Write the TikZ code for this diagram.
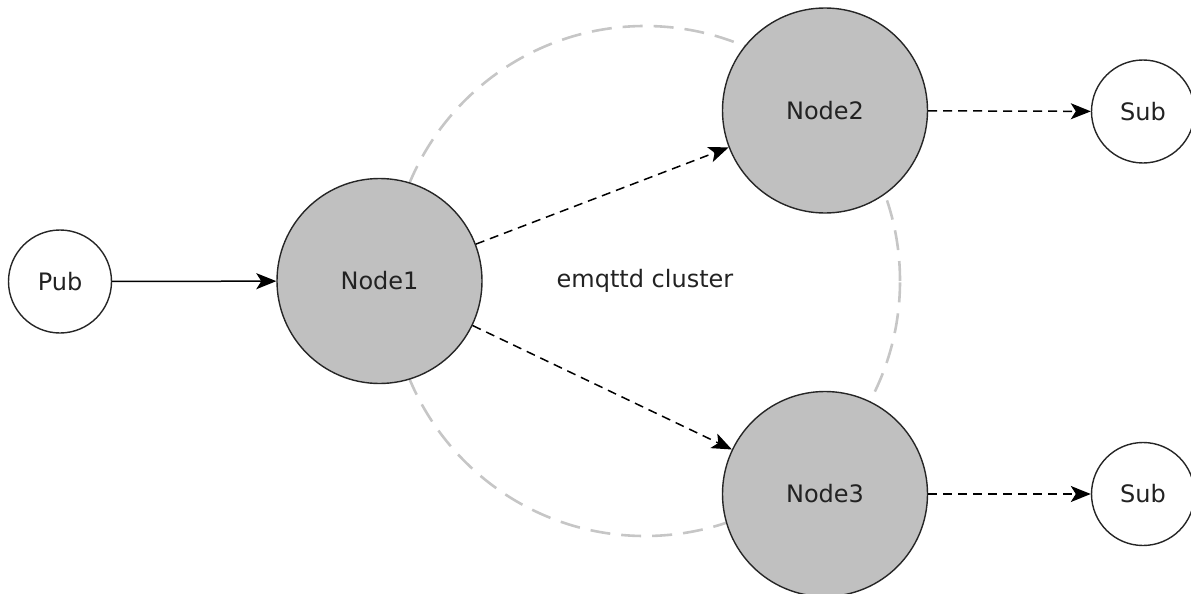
\documentclass[tikz,border=0pt]{standalone}
\usepackage{fontspec}
\setmainfont{DejaVu Sans}
\usepackage{xcolor}
\definecolor{peerfill}{HTML}{C0C0C0}
\definecolor{ringgray}{HTML}{C6C6C6}
\definecolor{inktext}{HTML}{222222}
\usetikzlibrary{arrows.meta}
\tikzset{
  peer/.style={circle, draw=black!85, line width=1.4pt, fill=peerfill, minimum size=205pt, inner sep=0pt, text=inktext},
  client/.style={circle, draw=black!85, line width=1.4pt, fill=white, minimum size=103pt, inner sep=0pt, text=inktext},
  link/.style={line width=1.5pt, -{Stealth[length=20pt,width=16pt,inset=5pt]}},
  route/.style={link, dash pattern=on 9pt off 6pt},
}
\begin{document}
\begin{tikzpicture}[x=1pt, y=-1pt, font=\fontsize{24}{28}\selectfont]
  \useasboundingbox (0,0) rectangle (1191,594);
  % cluster ring behind the peers
  \node[circle, draw=ringgray, line width=2.6pt, dash pattern=on 20pt off 11pt,
        minimum size=510pt, inner sep=0pt, text=inktext] (cluster) at (645,281) {emqttd cluster};

  \node[client] (pub) at (60,281.5) {Pub};
  \node[peer] (node1) at (379.5,281) {Node1};
  \node[peer] (node2) at (825,110.5) {Node2};
  \node[peer] (node3) at (825,494) {Node3};
  \node[client] (sub1) at (1143,111.5) {Sub};
  \node[client] (sub2) at (1143,494) {Sub};

  \draw[link] (pub) -- (node1);
  \draw[route] (node1) -- (node2);
  \draw[route] (node1) -- (node3);
  \draw[route] (node2) -- (sub1);
  \draw[route] (node3) -- (sub2);
\end{tikzpicture}
\end{document}
